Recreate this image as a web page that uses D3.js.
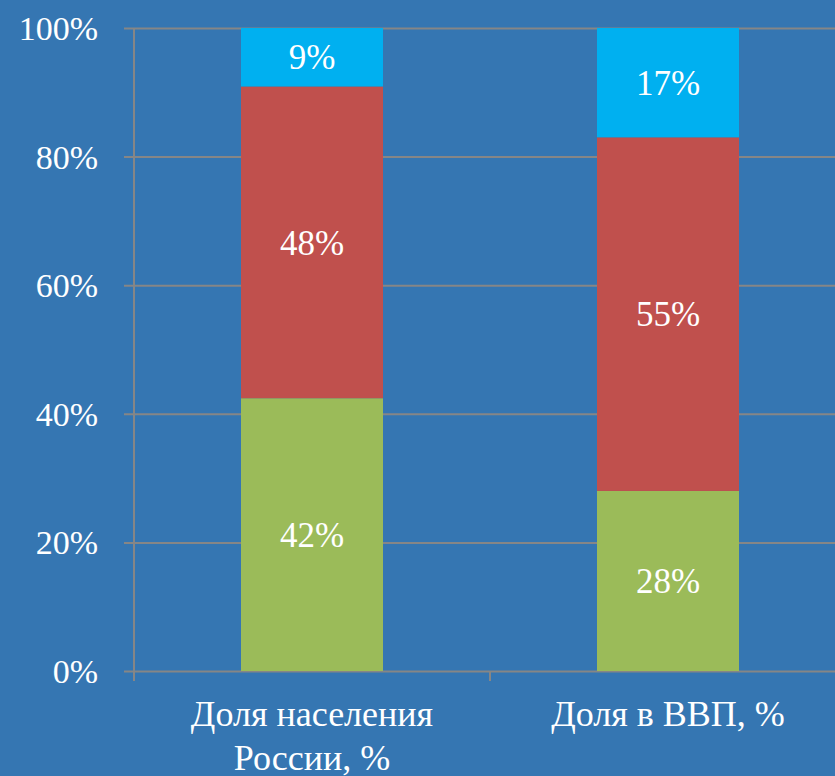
<!DOCTYPE html>
<meta charset="utf-8">
<style>
body { margin: 0; background: #3576b2; }
svg { display: block; }
text { font-family: "Liberation Serif", "Times New Roman", serif; fill: #fff; }
.axis .domain { display: none; }
</style>
<svg width="835" height="776"></svg>
<script src="https://d3js.org/d3.v7.min.js"></script>
<script>

var categories = ["Доля населения России, %", "Доля в ВВП, %"];
var keys = ["low", "mid", "high"];
var low = [42, 28];
var mid = [48, 55];
var high = [9, 17];
var yTicks = [0, 0.2, 0.4, 0.6, 0.8, 1];

var colors = {low: "#9bbb59", mid: "#c0504d", high: "#00b0f0"};
var gridColor = "#868686";

var svg = d3.select("svg"),
    margin = {top: 28, right: -11, bottom: 105, left: 134},
    width = +svg.attr("width") - margin.left - margin.right,
    height = +svg.attr("height") - margin.top - margin.bottom,
    g = svg.append("g").attr("transform", "translate(" + margin.left + "," + margin.top + ")");

svg.insert("rect", ":first-child")
    .attr("width", 835).attr("height", 776).attr("fill", "#3576b2");

var data = categories.map(function(c, i) {
  return {category: c, low: low[i], mid: mid[i], high: high[i]};
});

var x = d3.scaleBand()
    .domain(categories)
    .range([0, width])
    .paddingInner(0)
    .paddingOuter(0);

var y = d3.scaleLinear()
    .domain([0, 1])
    .range([height, 0]);

var series = d3.stack().keys(keys).offset(d3.stackOffsetExpand)(data);

// gridlines
g.append("g")
  .selectAll("line")
  .data(yTicks)
  .enter().append("line")
    .attr("x1", -10)
    .attr("x2", width)
    .attr("y1", function(d) { return y(d) + 0.5; })
    .attr("y2", function(d) { return y(d) + 0.5; })
    .attr("stroke", gridColor)
    .attr("stroke-width", 2);

// y axis line
g.append("line")
    .attr("x1", 0).attr("x2", 0)
    .attr("y1", 0).attr("y2", height + 10)
    .attr("stroke", gridColor)
    .attr("stroke-width", 2);

// category ticks
g.append("g")
  .selectAll("line")
  .data(categories)
  .enter().append("line")
    .attr("x1", function(d) { return x(d) + x.bandwidth(); })
    .attr("x2", function(d) { return x(d) + x.bandwidth(); })
    .attr("y1", height)
    .attr("y2", height + 10)
    .attr("stroke", gridColor)
    .attr("stroke-width", 2);

var barW = 142;

var layer = g.append("g")
  .selectAll("g")
  .data(series)
  .enter().append("g")
    .attr("fill", function(d) { return colors[d.key]; });

layer.selectAll("rect")
  .data(function(d) { return d; })
  .enter().append("rect")
    .attr("x", function(d) { return x(d.data.category) + x.bandwidth() / 2 - barW / 2; })
    .attr("y", function(d) { return y(d[1]); })
    .attr("width", barW)
    .attr("height", function(d) { return y(d[0]) - y(d[1]); });

layer.each(function(s) {
  d3.select(this).selectAll("text")
    .data(s)
    .enter().append("text")
      .attr("x", function(d) { return x(d.data.category) + x.bandwidth() / 2; })
      .attr("y", function(d) { return (y(d[0]) + y(d[1])) / 2; })
      .attr("dy", "0.35em")
      .attr("text-anchor", "middle")
      .style("font-size", "35px")
      .text(function(d) { return d.data[s.key] + "%"; });
});

// y tick labels
g.append("g")
  .selectAll("text")
  .data(yTicks)
  .enter().append("text")
    .attr("x", -36)
    .attr("y", function(d) { return y(d); })
    .attr("dy", "0.35em")
    .attr("text-anchor", "end")
    .style("font-size", "34px")
    .text(function(d) { return Math.round(d * 100) + "%"; });

// category labels
var catLines = {
  "Доля населения России, %": ["Доля населения", "России, %"],
  "Доля в ВВП, %": ["Доля в ВВП, %"]
};

g.append("g")
  .selectAll("text")
  .data(categories)
  .enter().append("text")
    .attr("text-anchor", "middle")
    .style("font-size", "36px")
    .attr("transform", function(d) { return "translate(" + (x(d) + x.bandwidth() / 2) + "," + (height + 55) + ")"; })
  .selectAll("tspan")
  .data(function(d) { return catLines[d]; })
  .enter().append("tspan")
    .attr("x", 0)
    .attr("y", function(d, i) { return i * 44; })
    .text(function(d) { return d; });

</script>
